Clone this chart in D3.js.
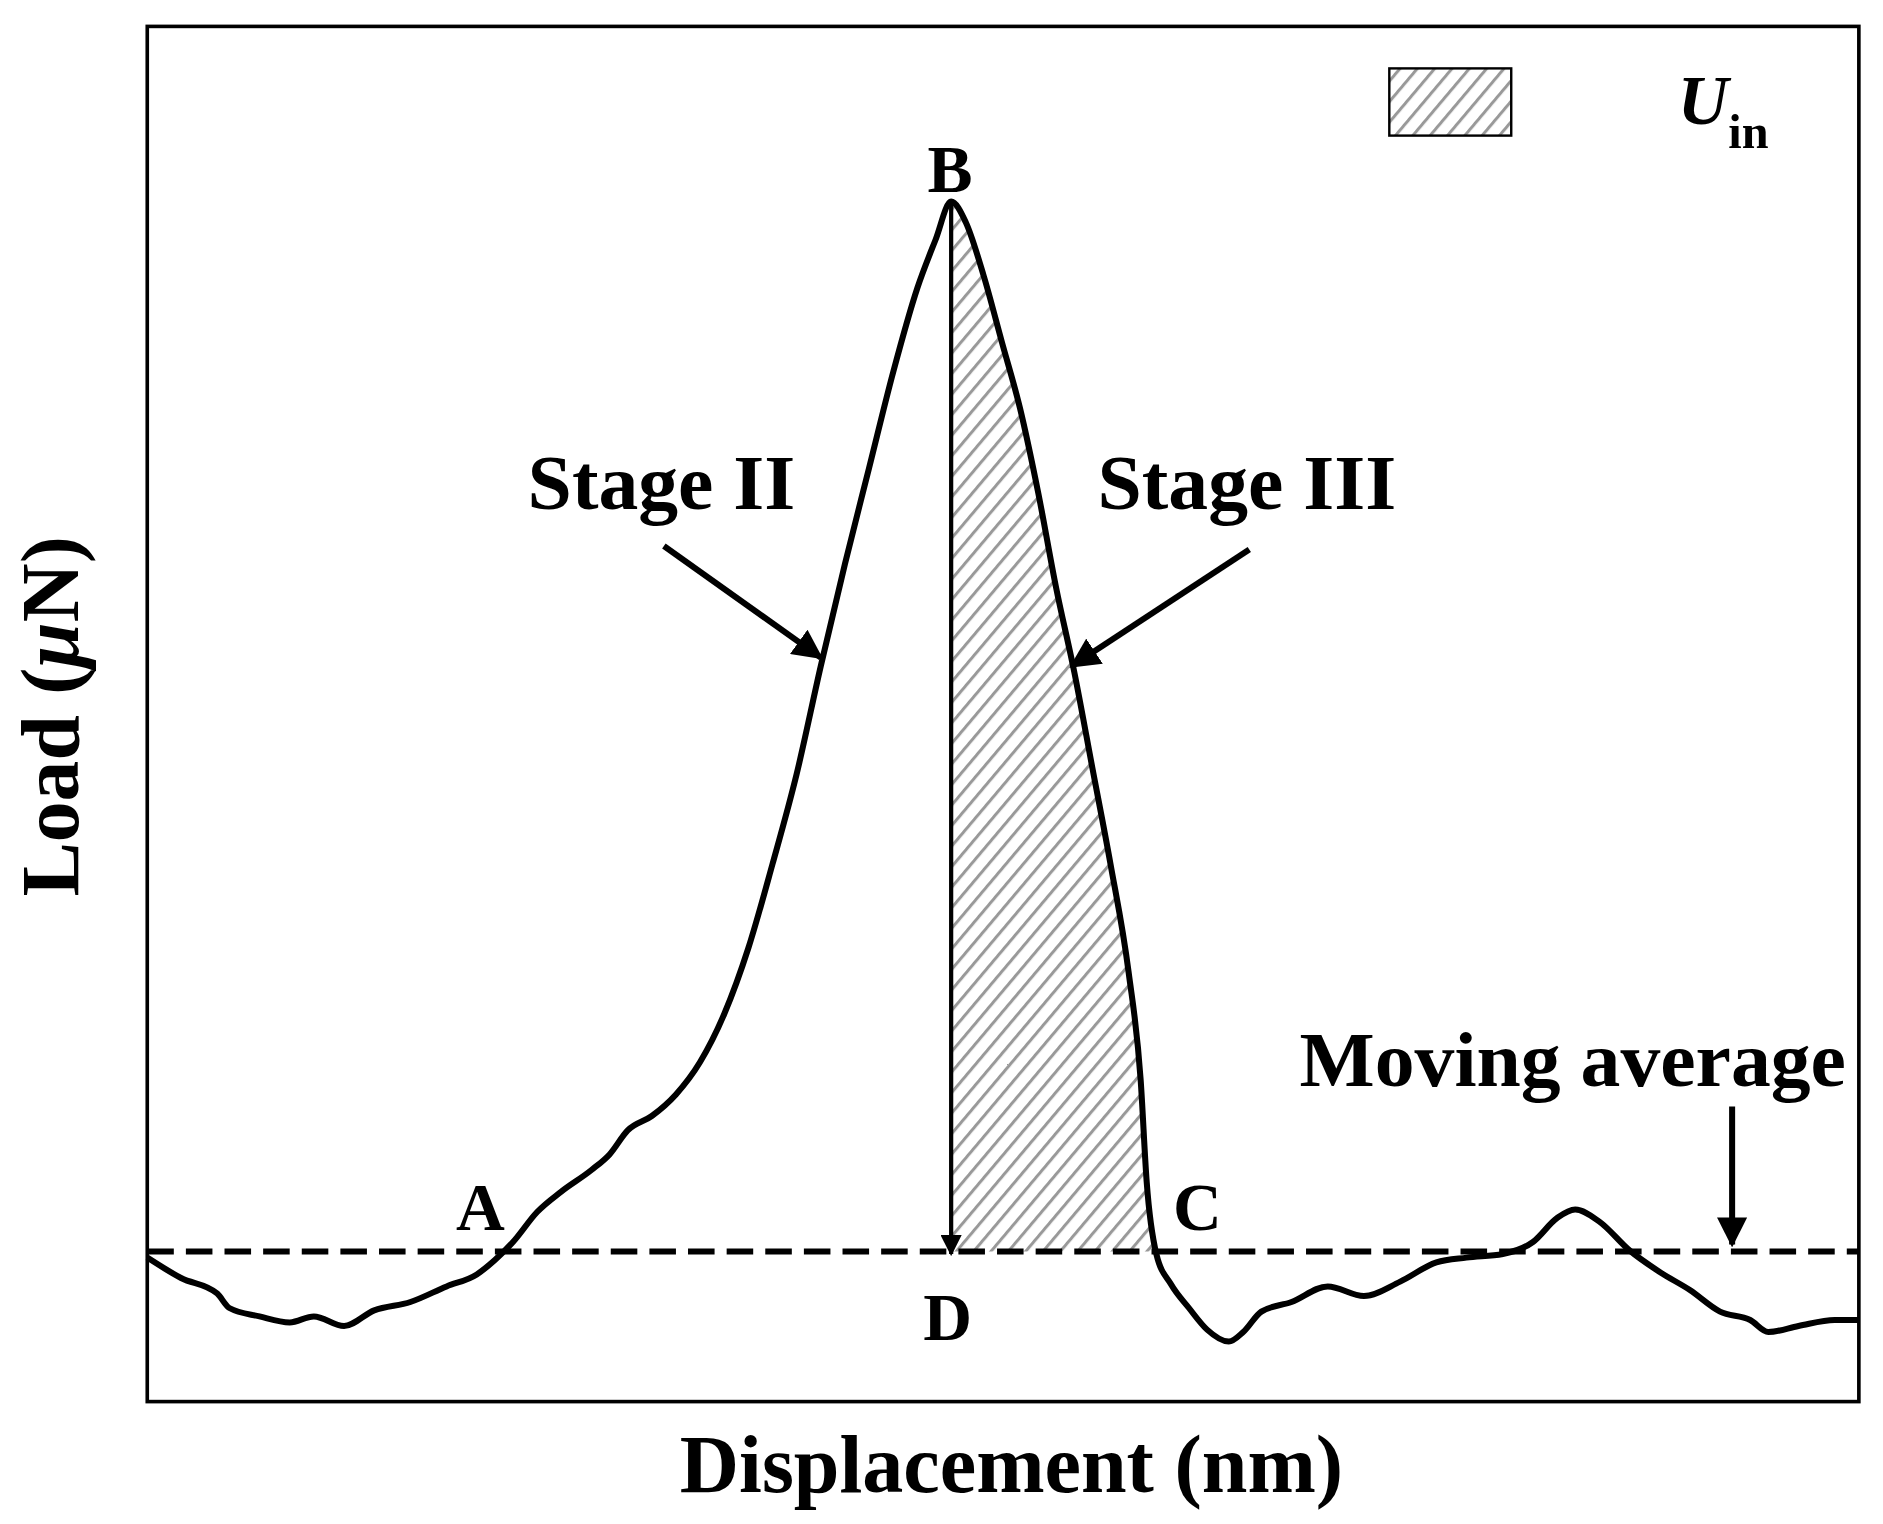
<!DOCTYPE html>
<html><head><meta charset="utf-8">
<script src="https://cdn.jsdelivr.net/npm/d3@7"></script>
<style>body{margin:0;background:#fff}svg{display:block}text{font-family:"Liberation Serif","Times New Roman",serif;font-weight:bold;fill:#000}</style>
</head><body>
<script>
// displacement (arbitrary units) and load (arbitrary units)
const dispX = [0,28,58,68,93,118,138,163,188,218,248,273,288,303,323,343,368,383,398,418,438,458,478,498,518,538,558,578,598,618,638,653,666,678,693,708,723,738,753,768,783,798,813,823,828,836,848,863,878,896,908,923,948,978,1008,1038,1068,1093,1123,1148,1168,1183,1203,1228,1253,1278,1303,1328,1343,1368,1398,1418];
const load = [120,103,90,78,71,66,71,63,76,83,96,106,118,133,158,175,193,206,226,238,256,283,323,378,448,523,613,698,778,858,928,968,1000,983,938,883,828,758,678,608,528,448,358,268,183,123,98,78,60,50,58,75,83,96,88,100,116,120,123,133,153,160,150,126,108,93,75,68,58,63,68,68];
const baseline = 125;
const peakX = 666, cX = 836;
const labels = ["A","B","C","D"];

const W=1560,H=1270;
const svg=d3.select("body").append("svg").attr("width",1883).attr("height",1524)
  .attr("viewBox",`0 0 ${W} ${H}`).attr("preserveAspectRatio","none");
const x=d3.scaleLinear().domain([0,1418]).range([122,1540]);
const y=d3.scaleLinear().domain([0,1146]).range([1168,22]);

const defs=svg.append("defs");
const pat=defs.append("pattern").attr("id","hatch").attr("patternUnits","userSpaceOnUse")
  .attr("width",11).attr("height",11).attr("patternTransform","rotate(40)");
pat.append("rect").attr("width",11).attr("height",11).attr("fill","#fff");
pat.append("line").attr("x1",0).attr("y1",0).attr("x2",0).attr("y2",11).attr("stroke","#999").attr("stroke-width",5);
defs.append("marker").attr("id","ah").attr("viewBox","0 0 10 10").attr("refX",9).attr("refY",5)
  .attr("markerWidth",5).attr("markerHeight",5).attr("orient","auto-start-reverse")
  .append("path").attr("d","M0,0L10,5L0,10Z").attr("fill","#000");

const line=d3.line().x(d=>x(d[0])).y(d=>y(d[1])).curve(d3.curveMonotoneX);
// hatched area
const pts=dispX.map((d,i)=>[d,load[i]]);
const seg=pts.filter(p=>p[0]>=peakX&&p[0]<=cX);
const poly=[...seg,[cX,baseline],[peakX,baseline]];
svg.append("path").attr("d",d3.line().x(d=>x(d[0])).y(d=>y(d[1]))(poly)+"Z").attr("fill","url(#hatch)");

// frame
svg.append("rect").attr("x",122).attr("y",22).attr("width",1418).attr("height",1146).attr("fill","none").attr("stroke","#000").attr("stroke-width",3);

// baseline
svg.append("line").attr("x1",x(0)).attr("x2",x(1418)).attr("y1",y(baseline)).attr("y2",y(baseline))
  .attr("stroke","#000").attr("stroke-width",5).attr("stroke-dasharray","22,10");
// curve
svg.append("path").datum(pts).attr("d",line)
  .attr("fill","none").attr("stroke","#000").attr("stroke-width",5).attr("stroke-linejoin","round");
// B-D arrow
svg.append("line").attr("x1",x(peakX)).attr("x2",x(peakX)).attr("y1",y(1000)).attr("y2",y(baseline)+2)
  .attr("stroke","#000").attr("stroke-width",3.5).attr("marker-end","url(#ah)");

function arrow(x1,y1,x2,y2){svg.append("line").attr("x1",x1).attr("y1",y1).attr("x2",x2).attr("y2",y2)
  .attr("stroke","#000").attr("stroke-width",5).attr("marker-end","url(#ah)");}
arrow(550,455,680,548);
arrow(1035,458,888,555);
arrow(1435,922,1435,1037);

function txt(s,xx,yy,fs,anchor){return svg.append("text").attr("x",xx).attr("y",yy).attr("font-size",fs).attr("text-anchor",anchor||"middle").text(s);}
txt(labels[0],398,1025,56);
txt(labels[1],787,160,56);
txt(labels[2],992,1025,56);
txt(labels[3],785,1117,56);
txt("Stage II",548,424,66);
txt("Stage III",1033,424,66);
txt("Moving average",1303,905,66);

// legend
svg.append("rect").attr("x",1151).attr("y",57).attr("width",101).attr("height",56).attr("fill","url(#hatch)").attr("stroke","#000").attr("stroke-width",2);
const u=svg.append("text").attr("x",1390).attr("y",103).attr("font-size",58).attr("text-anchor","start");
u.append("tspan").attr("font-style","italic").text("U");
u.append("tspan").attr("font-size",40).attr("dy",20).text("in");

// axis titles
txt("Displacement (nm)",838,1243,68);
const yl=svg.append("text").attr("transform","translate(65,597) rotate(-90)").attr("font-size",68).attr("text-anchor","middle");
yl.append("tspan").text("Load (");
yl.append("tspan").attr("font-style","italic").text("μ");
yl.append("tspan").text("N)");
</script>
</body></html>
